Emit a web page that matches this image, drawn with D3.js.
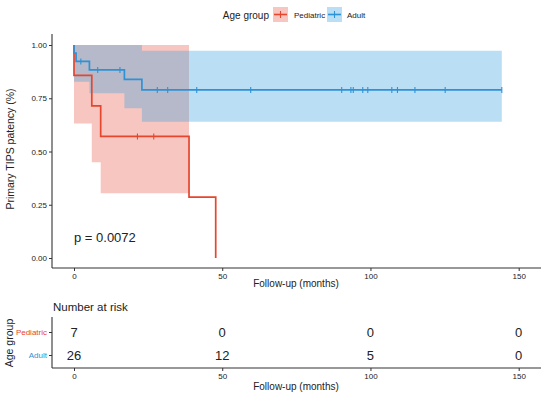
<!DOCTYPE html>
<html><head><meta charset="utf-8">
<script src="https://cdn.jsdelivr.net/npm/d3@7"></script>
<style>
body{margin:0;background:#fff;}
svg{display:block;font-family:"Liberation Sans",Arial,sans-serif;}
</style></head>
<body>
<svg id="c" width="550" height="397"></svg>
<script>
// ---- data ----
const groups = ["Pediatric", "Adult"];
const colors = ["#E5462D", "#2E92D6"];
const fills = ["#F8C6C1", "#2E9FDF"];
const fillOpacity = [1, 0.33];

const pedTimes = [0, 0, 6, 9, 38.8, 47.8];
const pedSurv  = [1, 0.857, 0.714, 0.571, 0.286, 0];
const pedEnd = 47.8;
const pedCiTimes = [0, 6, 9, 38.8];
const pedLower = [0.632, 0.449, 0.304, 0.304];
const pedUpper = [1, 1, 1, 1];
const pedCensor = [21.4, 26.9];

const adultTimes = [0, 0, 0.7, 5.2, 17.0, 22.9];
const adultSurv  = [1, 0.962, 0.923, 0.883, 0.839, 0.789];
const adultEnd = 144.3;
const adultCiTimes = [0, 5.2, 17.0, 22.9, 144.3];
const adultLower = [0.828, 0.773, 0.703, 0.64, 0.64];
const adultUpper = [1, 1, 1, 0.973, 0.973];
const adultCensor = [2.3, 8.0, 15.5, 28.1, 31.6, 41.4, 59.6, 90.3, 93.4, 94.2, 97.4, 99.1, 107.2, 109.1, 115.0, 125.2, 144.3];

const xTicks = [0, 50, 100, 150];
const yTicks = [0, 0.25, 0.5, 0.75, 1];
const riskTimes = [0, 50, 100, 150];
const riskPed = [7, 0, 0, 0];
const riskAdult = [26, 12, 5, 0];
const pValue = "p = 0.0072";

// ---- scales ----
const svg = d3.select("#c");
const x = d3.scaleLinear().domain([0, 150]).range([74, 518.7]);
const y = d3.scaleLinear().domain([0, 1]).range([258, 45]);
const panelL = 52, panelR = 541, panelT = 34, panelB = 268;

const txt = "#222";

// ---- ribbons ----
const area = d3.area().curve(d3.curveStepAfter)
  .x(d => x(d.t)).y0(d => y(d.lo)).y1(d => y(d.hi));
const pedCi = pedCiTimes.map((t, i) => ({t, lo: pedLower[i], hi: pedUpper[i]}));
const adultCi = adultCiTimes.map((t, i) => ({t, lo: adultLower[i], hi: adultUpper[i]}));
const ribbons = svg.append("g");
ribbons.append("path").attr("d", area(pedCi)).attr("fill", fills[0]).attr("fill-opacity", fillOpacity[0]);
ribbons.append("path").attr("d", area(adultCi)).attr("fill", fills[1]).attr("fill-opacity", fillOpacity[1]);

// ---- step lines ----
const line = d3.line().curve(d3.curveStepAfter).x(d => x(d.t)).y(d => y(d.s));
function pts(times, surv, end) {
  const p = times.map((t, i) => ({t, s: surv[i]}));
  p.push({t: end, s: surv[surv.length - 1]});
  return p;
}
const pedPts = pts(pedTimes, pedSurv, pedEnd);
const adultPts = pts(adultTimes, adultSurv, adultEnd);
svg.append("path").attr("d", line(pedPts)).attr("fill", "none").attr("stroke", colors[0]).attr("stroke-width", 1.7);
svg.append("path").attr("d", line(adultPts)).attr("fill", "none").attr("stroke", colors[1]).attr("stroke-width", 1.7);

function survAt(times, surv, t) {
  let s = surv[0];
  for (let i = 0; i < times.length; i++) if (times[i] <= t) s = surv[i];
  return s;
}
function censor(list, times, surv, col) {
  svg.append("g").selectAll("line").data(list).join("line")
    .attr("x1", d => x(d)).attr("x2", d => x(d))
    .attr("y1", d => y(survAt(times, surv, d)) - 3).attr("y2", d => y(survAt(times, surv, d)) + 3)
    .attr("stroke", col).attr("stroke-width", 1.1);
}
censor(pedCensor, pedTimes, pedSurv, colors[0]);
censor(adultCensor, adultTimes, adultSurv, colors[1]);

// ---- axes ----
const axisCol = "#333";
const yAxis = svg.append("g").attr("transform", `translate(${panelL},0)`)
  .call(d3.axisLeft(y).tickValues(yTicks).tickFormat(d3.format(".2f")).tickSize(3).tickPadding(2));
yAxis.select(".domain").attr("d", `M0,${panelT}V${panelB}`);
const xAxis = svg.append("g").attr("transform", `translate(0,${panelB})`)
  .call(d3.axisBottom(x).tickValues(xTicks).tickSize(3).tickPadding(2));
xAxis.select(".domain").attr("d", `M${panelL},0H${panelR}`);
[yAxis, xAxis].forEach(a => {
  a.selectAll("text").attr("font-size", 8).attr("fill", txt).attr("font-family", "Liberation Sans, Arial");
  a.selectAll("line").attr("stroke", axisCol);
  a.select(".domain").attr("stroke", axisCol).attr("stroke-width", 1.1);
});

svg.append("text").attr("transform", "translate(14,149) rotate(-90)").attr("text-anchor", "middle")
  .attr("font-size", 10.5).attr("fill", txt).text("Primary TIPS patency (%)");
svg.append("text").attr("x", 296).attr("y", 287).attr("text-anchor", "middle")
  .attr("font-size", 10).attr("fill", txt).text("Follow-up (months)");
svg.append("text").attr("x", x(0)).attr("y", 242).attr("font-size", 13).attr("fill", txt).text(pValue);

// ---- legend ----
const lg = svg.append("g");
lg.append("text").attr("x", 269).attr("y", 18.5).attr("text-anchor", "end").attr("font-size", 10).attr("fill", txt).text("Age group");
const keyX = [273, 327], labX = [294, 347];
groups.forEach((g, i) => {
  lg.append("rect").attr("x", keyX[i]).attr("y", 7).attr("width", 15).attr("height", 15)
    .attr("fill", fills[i]).attr("fill-opacity", fillOpacity[i]);
  lg.append("line").attr("x1", keyX[i] + 1).attr("x2", keyX[i] + 14).attr("y1", 14.5).attr("y2", 14.5)
    .attr("stroke", colors[i]).attr("stroke-width", 1.6);
  lg.append("line").attr("x1", keyX[i] + 7.5).attr("x2", keyX[i] + 7.5).attr("y1", 11).attr("y2", 18)
    .attr("stroke", colors[i]).attr("stroke-width", 1.1);
  lg.append("text").attr("x", labX[i]).attr("y", 17.5).attr("font-size", 8).attr("fill", txt).text(g);
});

// ---- risk table ----
const rt = svg.append("g");
rt.append("text").attr("x", 53).attr("y", 311).attr("font-size", 11.5).attr("fill", txt).text("Number at risk");
const ry = d3.scalePoint().domain(groups).range([332, 355]);
const rtY = rt.append("g").attr("transform", `translate(${panelL},0)`)
  .call(d3.axisLeft(ry).tickSize(3).tickPadding(2));
rtY.select(".domain").attr("d", "M0,317V368");
rtY.selectAll("text").attr("font-size", 8).attr("fill", (d, i) => colors[i]);
const rtX = rt.append("g").attr("transform", "translate(0,368)")
  .call(d3.axisBottom(x).tickValues(xTicks).tickSize(3).tickPadding(2));
rtX.select(".domain").attr("d", `M${panelL},0H${panelR}`);
rtX.selectAll("text").attr("font-size", 8).attr("fill", txt);
[rtY, rtX].forEach(a => {
  a.selectAll("line").attr("stroke", axisCol);
  a.select(".domain").attr("stroke", axisCol).attr("stroke-width", 1.1);
});
const rows = [riskPed, riskAdult];
rows.forEach((r, gi) => {
  rt.append("g").selectAll("text").data(r).join("text")
    .attr("x", (d, i) => x(riskTimes[i])).attr("y", ry(groups[gi]) + 4.5)
    .attr("text-anchor", "middle").attr("font-size", 13).attr("fill", txt).text(d => d);
});
svg.append("text").attr("transform", "translate(13,343) rotate(-90)").attr("text-anchor", "middle")
  .attr("font-size", 10.5).attr("fill", txt).text("Age group");
svg.append("text").attr("x", 296).attr("y", 390).attr("text-anchor", "middle")
  .attr("font-size", 10).attr("fill", txt).text("Follow-up (months)");
</script>
</body></html>
